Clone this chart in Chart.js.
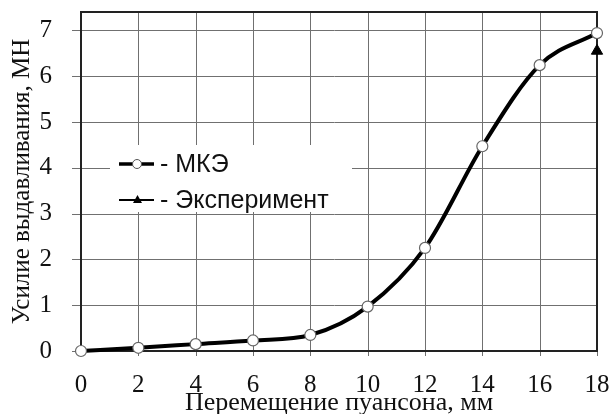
<!DOCTYPE html>
<html lang="ru">
<head>
    <meta charset="UTF-8">
    <title>Усилие выдавливания</title>
    <script src="https://cdn.jsdelivr.net/npm/chart.js@4.4.1/dist/chart.umd.min.js"></script>
    <style>
        html, body { margin: 0; padding: 0; background: #fff; }
        #wrap { width: 611px; height: 414px; }
    </style>
</head>
<body>
    <div id="wrap"><canvas id="myChart" width="611" height="414"></canvas></div>

    <script>
        // перемещение пуансона, мм
        var xValues = [0, 2, 4, 6, 8, 10, 12, 14, 16, 18];
        // МКЭ, МН
        var femValues = [0.0, 0.07, 0.15, 0.23, 0.35, 0.97, 2.25, 4.47, 6.24, 6.94];
        // эксперимент
        var expX = [18];
        var expValues = [6.55];

        var xTicks = [0, 2, 4, 6, 8, 10, 12, 14, 16, 18];
        var yTicks = [0, 1, 2, 3, 4, 5, 6, 7];

        var legendLabels = ['- МКЭ', '- Эксперимент'];

        var serif = "'Times New Roman', 'Liberation Serif', serif";
        var sans = "Arial, 'Liberation Sans', sans-serif";

        function toPoints(xs, ys) {
            var pts = [];
            for (var i = 0; i < xs.length; i++) {
                pts.push({x: xs[i], y: ys[i]});
            }
            return pts;
        }

        function line(ctx, x1, y1, x2, y2) {
            ctx.beginPath();
            ctx.moveTo(x1, y1);
            ctx.lineTo(x2, y2);
            ctx.stroke();
        }

        // сетка, рамка и легенда внутри области графика
        var framePlugin = {
            id: 'framePlugin',
            beforeDatasetsDraw: function (chart) {
                var ctx = chart.ctx;
                var a = chart.chartArea;
                var sx = chart.scales.x;
                var sy = chart.scales.y;
                ctx.save();

                // сетка (по тикам шкал)
                ctx.strokeStyle = '#707070';
                ctx.lineWidth = 1;
                xTicks.forEach(function (v) {
                    var px = Math.round(sx.getPixelForValue(v)) + 0.5;
                    line(ctx, px, a.top, px, a.bottom + 5);
                });
                yTicks.forEach(function (v) {
                    var py = Math.round(sy.getPixelForValue(v)) + 0.5;
                    line(ctx, a.left - 9, py, a.right, py);
                });

                // белая подложка легенды
                ctx.fillStyle = '#fff';
                ctx.fillRect(110, 145, 242, 67);

                var rows = [164, 200];
                for (var i = 0; i < legendLabels.length; i++) {
                    var y = rows[i];
                    ctx.strokeStyle = '#000';
                    ctx.lineWidth = i === 0 ? 3.5 : 2;
                    line(ctx, 119, y, 154, y);
                    if (i === 0) {
                        ctx.beginPath();
                        ctx.arc(137, y, 4.5, 0, Math.PI * 2);
                        ctx.fillStyle = '#fff';
                        ctx.fill();
                        ctx.lineWidth = 1;
                        ctx.strokeStyle = '#555';
                        ctx.stroke();
                    } else {
                        ctx.beginPath();
                        ctx.moveTo(137.5, y - 5);
                        ctx.lineTo(142, y + 3);
                        ctx.lineTo(133, y + 3);
                        ctx.closePath();
                        ctx.fillStyle = '#000';
                        ctx.fill();
                    }
                    ctx.fillStyle = '#111';
                    ctx.font = '25px ' + sans;
                    ctx.textBaseline = 'middle';
                    ctx.textAlign = 'left';
                    ctx.fillText(legendLabels[i], 160, y + 1);
                }

                ctx.strokeStyle = '#222';
                ctx.lineWidth = 2;
                ctx.strokeRect(a.left, a.top, a.right - a.left, a.bottom - a.top);
                ctx.restore();
            }
        };

        var canvas = document.querySelector('#myChart');
        new Chart(canvas, {
            type: 'line',
            data: {
                datasets: [{
                    label: 'МКЭ',
                    data: toPoints(xValues, femValues),
                    borderColor: '#000',
                    borderWidth: 4,
                    cubicInterpolationMode: 'monotone',
                    pointRadius: 5.5,
                    pointBackgroundColor: '#fff',
                    pointBorderColor: '#666',
                    pointBorderWidth: 1.2,
                    clip: false,
                    order: 1
                }, {
                    label: 'Эксперимент',
                    data: toPoints(expX, expValues),
                    showLine: false,
                    pointStyle: 'triangle',
                    pointRadius: 6.5,
                    pointBackgroundColor: '#000',
                    pointBorderColor: '#000',
                    pointBorderWidth: 1,
                    clip: false,
                    order: 0
                }]
            },
            options: {
                responsive: false,
                animation: false,
                layout: {padding: {left: 0, top: 12, right: 14, bottom: 0}},
                plugins: {
                    legend: {display: false},
                    tooltip: {enabled: false}
                },
                scales: {
                    x: {
                        type: 'linear',
                        min: xTicks[0],
                        max: xTicks[xTicks.length - 1],
                        afterFit: function (s) {
                            s.height = 63;
                            s.paddingLeft = 0;
                            s.paddingRight = 0;
                        },
                        grid: {display: false},
                        border: {display: false},
                        ticks: {
                            stepSize: xTicks[1] - xTicks[0],
                            padding: 11,
                            maxRotation: 0,
                            color: '#111',
                            font: {family: serif, size: 25}
                        },
                        title: {
                            display: true,
                            text: 'Перемещение пуансона, мм',
                            color: '#111',
                            font: {family: serif, size: 26, lineHeight: 0.8},
                            padding: {top: 0, bottom: 0}
                        }
                    },
                    y: {
                        min: yTicks[0],
                        max: 7.4,
                        afterFit: function (s) {
                            s.width = 81;
                            s.paddingTop = 0;
                            s.paddingBottom = 0;
                        },
                        grid: {display: false},
                        border: {display: false},
                        ticks: {
                            stepSize: yTicks[1] - yTicks[0],
                            includeBounds: false,
                            padding: 21,
                            color: '#111',
                            font: {family: serif, size: 25}
                        },
                        title: {
                            display: true,
                            text: 'Усилие выдавливания, МН',
                            color: '#111',
                            font: {family: serif, size: 25, lineHeight: 0.8},
                            padding: {top: 12, bottom: 0}
                        }
                    }
                }
            },
            plugins: [framePlugin]
        });
    </script>
</body>
</html>
